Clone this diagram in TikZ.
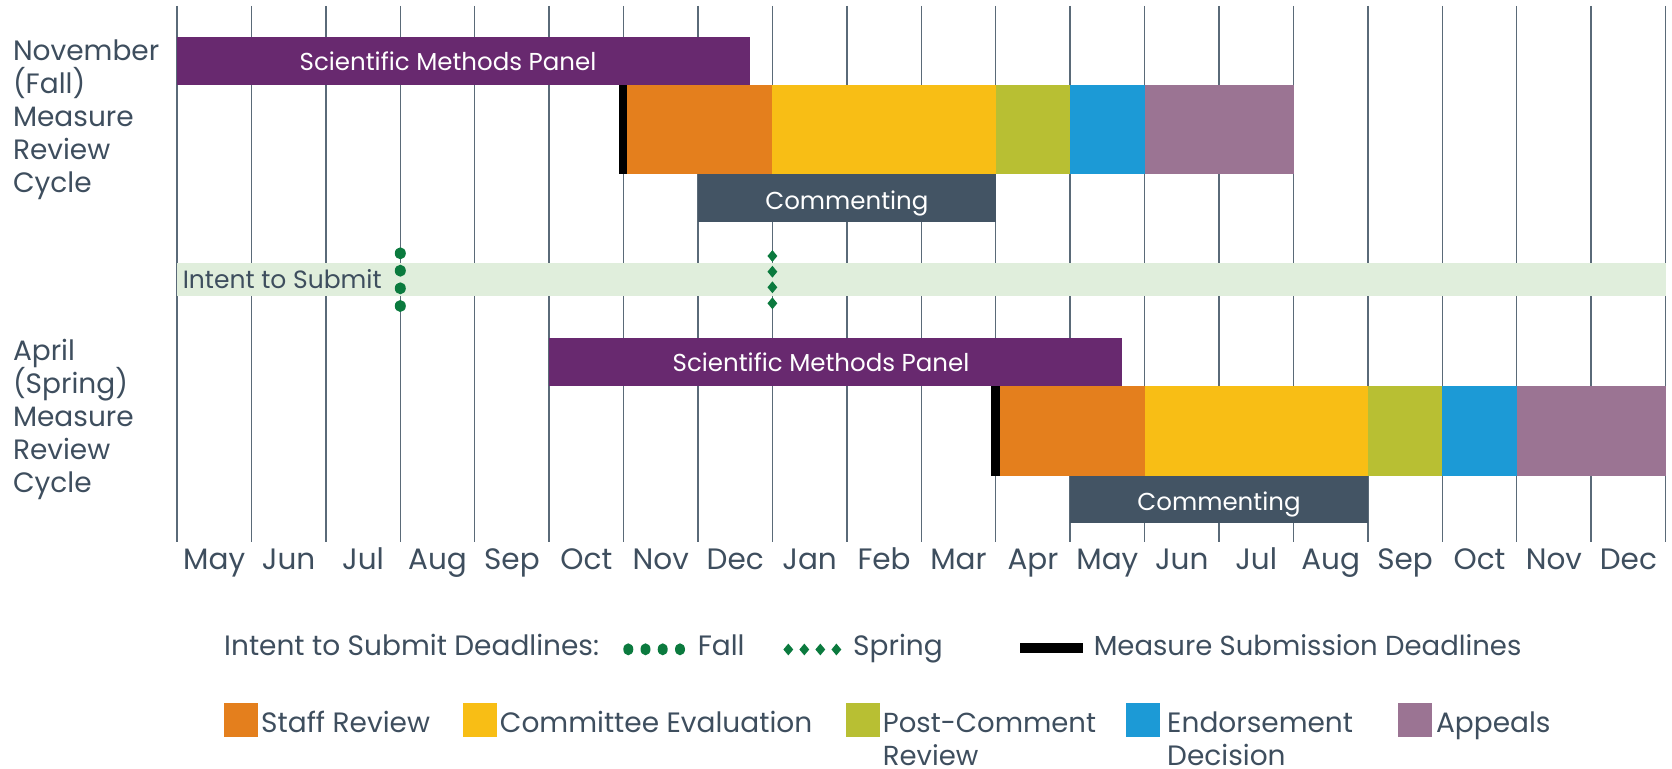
\documentclass[tikz,border=0pt]{standalone}
\usepackage{fontspec}
\setmainfont{Poppins}
\usetikzlibrary{shapes.geometric}
\definecolor{txt}{HTML}{3E4E5E}
\definecolor{gridc}{HTML}{5A6A78}
\definecolor{smp}{HTML}{68296F}
\definecolor{staff}{HTML}{E47F1D}
\definecolor{cmte}{HTML}{F8BE15}
\definecolor{post}{HTML}{B8BF33}
\definecolor{endo}{HTML}{1C9AD6}
\definecolor{appl}{HTML}{9B7493}
\definecolor{cmt}{HTML}{435464}
\definecolor{bandc}{HTML}{E0EEDC}
\definecolor{dotc}{HTML}{0B7A3E}
\newcommand\mybar[6]{\node[barbox, fill=#2, minimum width={(#5)-(#3)}, minimum height={(#6)-(#4)}] (#1) at (#3,#4) {};}
\tikzset{
  barbox/.style={rectangle, inner sep=0pt, outer sep=0pt, anchor=north west, draw=none},
  gridline/.style={draw=gridc, line width=1.4pt},
  lbl/.style={anchor=base west, inner sep=0pt, text=txt, font=\fontsize{28}{33}\selectfont},
  mlbl/.style={anchor=base, inner sep=0pt, text=txt, font=\fontsize{29.5}{33}\selectfont},
  bartxt/.style={anchor=base, inner sep=0pt, text=white, font=\fontsize{24.5}{30}\selectfont},
  legtxt/.style={anchor=base west, inner sep=0pt, text=txt, font=\fontsize{28}{33}\selectfont},
  fdot/.style={ellipse, fill=dotc, inner sep=0pt, minimum width=11, minimum height=12},
  sdot/.style={diamond, fill=dotc, inner sep=0pt, minimum width=10, minimum height=12},
  lsq/.style={barbox, minimum width=34, minimum height=34},
}
\begin{document}
\begin{tikzpicture}[x=1pt,y=-1pt]
\useasboundingbox (0,0) rectangle (1672,768);
% month grid
\foreach \i in {0,...,20} \draw[gridline] ({177+74.43*\i},6) -- ({177+74.43*\i},542);
\foreach \m [count=\i from 0] in {May,Jun,Jul,Aug,Sep,Oct,Nov,Dec,Jan,Feb,Mar,Apr,May,Jun,Jul,Aug,Sep,Oct,Nov,Dec}
  \node[mlbl] (m\i) at ({214.2+74.43*\i},569.5) {\m};
% left labels
\foreach \t [count=\k] in {November,(Fall),Measure,Review,Cycle}
  \node[lbl] (fl\k) at (12.8,{60+33*(\k-1)}) {\t};
\foreach \t [count=\k] in {April,(Spring),Measure,Review,Cycle}
  \node[lbl] (sl\k) at (12.8,{360+33*(\k-1)}) {\t};
% fall cycle
\mybar{fsmp}{smp}{177}{36.7}{750}{85}
\node[bartxt] (fsmpt) at (448,70.7) {Scientific Methods Panel};
\mybar{fdead}{black}{619}{85}{627}{174.3}
\mybar{fstaff}{staff}{627}{85}{772.4}{174.3}
\mybar{fcmte}{cmte}{772.4}{85}{995.7}{174.3}
\mybar{fpost}{post}{995.7}{85}{1070.2}{174.3}
\mybar{fendo}{endo}{1070.2}{85}{1144.6}{174.3}
\mybar{fappl}{appl}{1144.6}{85}{1293.5}{174.3}
\mybar{fcmt}{cmt}{698}{174.3}{995.7}{222.3}
\node[bartxt] (fcmtt) at (846.9,209) {Commenting};
% intent band
\mybar{band}{bandc}{177}{263.3}{1665.6}{296}
\node[lbl, font=\fontsize{25}{30}\selectfont] (bandt) at (182.6,288.3) {Intent to Submit};
\foreach \y [count=\k] in {253.3,270.7,288.3,306} \node[fdot] (fd\k) at (400.3,\y) {};
\foreach \y [count=\k] in {256,271.7,287.3,303.3} \node[sdot] (sd\k) at (772.4,\y) {};
% spring cycle
\mybar{ssmp}{smp}{549.2}{338.3}{1122}{386}
\node[bartxt] (ssmpt) at (821,371.7) {Scientific Methods Panel};
\mybar{sdead}{black}{991.3}{386}{1000}{475.7}
\mybar{sstaff}{staff}{1000}{386}{1144.6}{475.7}
\mybar{scmte}{cmte}{1144.6}{386}{1367.9}{475.7}
\mybar{spost}{post}{1367.9}{386}{1442.3}{475.7}
\mybar{sendo}{endo}{1442.3}{386}{1516.7}{475.7}
\mybar{sappl}{appl}{1516.7}{386}{1665.6}{475.7}
\mybar{scmt}{cmt}{1070.2}{475.7}{1367.9}{523.3}
\node[bartxt] (scmtt) at (1219,510.5) {Commenting};
% legend row 1
\node[legtxt] (lg1) at (224,655.5) {Intent to Submit Deadlines:};
\foreach \x [count=\k] in {628.3,645.5,662.7,680} \node[fdot, minimum width=10] (lfd\k) at (\x,649.3) {};
\node[legtxt] (lgfall) at (697.6,655.5) {Fall};
\foreach \x [count=\k] in {788.3,804.3,820.3,836.4} \node[sdot] (lsd\k) at (\x,649.5) {};
\node[legtxt] (lgspr) at (853,655.5) {Spring};
\mybar{lgdead}{black}{1019.6}{643}{1082.5}{653}
\node[legtxt, font=\fontsize{27.5}{33}\selectfont] (lgmsd) at (1093.6,655.5) {Measure Submission Deadlines};
% legend row 2
\node[lsq, fill=staff] (sq1) at (224,702.7) {};
\node[legtxt] (lt1) at (261,732.5) {Staff Review};
\node[lsq, fill=cmte] (sq2) at (462.5,702.7) {};
\node[legtxt] (lt2) at (499.7,732.5) {Committee Evaluation};
\node[lsq, fill=post] (sq3) at (845.5,702.7) {};
\node[legtxt, font=\fontsize{27.5}{33}\selectfont] (lt3) at (882.7,732.5) {Post-Comment};
\node[legtxt, font=\fontsize{27.5}{33}\selectfont, text depth=0pt] (lt3b) at (882.7,765) {Review};
\node[lsq, fill=endo] (sq4) at (1126,702.7) {};
\node[legtxt] (lt4) at (1167,732.5) {Endorsement};
\node[legtxt, text depth=0pt] (lt4b) at (1167,765) {Decision};
\node[lsq, fill=appl] (sq5) at (1398,702.7) {};
\node[legtxt] (lt5) at (1435.8,732.5) {Appeals};
\end{tikzpicture}
\end{document}
